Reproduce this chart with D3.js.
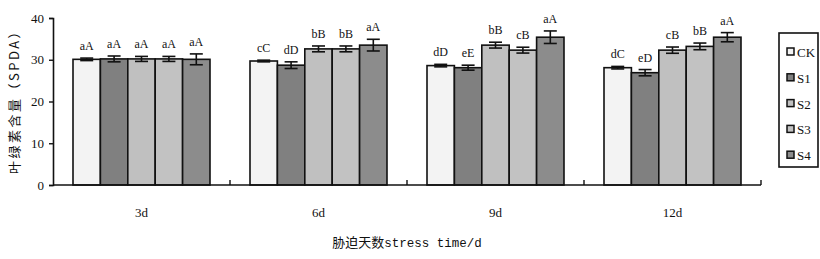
<!DOCTYPE html>
<html>
<head>
<meta charset="utf-8">
<script src="https://cdn.jsdelivr.net/npm/d3@7"></script>
<style>
  body { margin: 0; background: #fff; }
  svg text { font-family: "Liberation Serif", "DejaVu Serif", serif; fill: #111; }
</style>
</head>
<body>
<div id="chart"></div>
<script>
// stress days and treatments
const days = ['3d', '6d', '9d', '12d'];
const series = ['CK', 'S1', 'S2', 'S3', 'S4'];

// chlorophyll content (SPAD), per series, one value per day
const meanCK = [30.1, 29.7, 28.6, 28.1];
const meanS1 = [30.2, 28.7, 28.1, 26.9];
const meanS2 = [30.2, 32.6, 33.5, 32.3];
const meanS3 = [30.2, 32.6, 32.3, 33.2];
const meanS4 = [30.1, 33.5, 35.4, 35.4];

// standard errors
const errCK = [0.3, 0.2, 0.3, 0.3];
const errS1 = [0.7, 0.8, 0.6, 0.75];
const errS2 = [0.6, 0.7, 0.7, 0.75];
const errS3 = [0.6, 0.7, 0.7, 0.8];
const errS4 = [1.3, 1.4, 1.5, 1.1];

// significance letters
const sigCK = ['aA', 'cC', 'dD', 'dC'];
const sigS1 = ['aA', 'dD', 'eE', 'eD'];
const sigS2 = ['aA', 'bB', 'bB', 'cB'];
const sigS3 = ['aA', 'bB', 'cB', 'bB'];
const sigS4 = ['aA', 'aA', 'aA', 'aA'];

const yTicks = [0, 10, 20, 30, 40];
const colors = ['#f3f3f3', '#808080', '#c0c0c0', '#c2c2c2', '#8c8c8c'];

const means = [meanCK, meanS1, meanS2, meanS3, meanS4];
const errs = [errCK, errS1, errS2, errS3, errS4];
const sigs = [sigCK, sigS1, sigS2, sigS3, sigS4];

const rows = [];
days.forEach((day, i) => {
    series.forEach((s, j) => {
        rows.push({ day, s, j, value: means[j][i], err: errs[j][i], sig: sigs[j][i] });
    });
});

const width = 820, height = 259;
const margin = { top: 18, right: 59, bottom: 74, left: 53 };
const innerW = width - margin.left - margin.right;
const innerH = height - margin.top - margin.bottom;

const svg = d3.select('#chart').append('svg')
    .attr('width', width)
    .attr('height', height);

const g = svg.append('g')
    .attr('transform', `translate(${margin.left},${margin.top})`);

const x0 = d3.scaleBand().domain(days).range([0, innerW]);
const x1 = d3.scaleBand().domain(series).range([0, x0.bandwidth()]).paddingOuter(0.73);
const y = d3.scaleLinear().domain([0, 40]).range([innerH, 0]);
const color = d3.scaleOrdinal().domain(series).range(colors);

// bars
g.append('g')
    .selectAll('rect')
    .data(rows)
    .enter().append('rect')
    .attr('x', d => x0(d.day) + x1(d.s))
    .attr('y', d => y(d.value))
    .attr('width', x1.bandwidth())
    .attr('height', d => innerH - y(d.value))
    .attr('fill', d => color(d.s))
    .attr('stroke', '#111')
    .attr('stroke-width', 1.6);

// error bars
const eb = g.append('g')
    .selectAll('g')
    .data(rows)
    .enter().append('g')
    .attr('stroke', '#111')
    .attr('stroke-width', 1.6);
const cx = d => x0(d.day) + x1(d.s) + x1.bandwidth() / 2;
eb.append('line')
    .attr('x1', cx).attr('x2', cx)
    .attr('y1', d => y(d.value + d.err))
    .attr('y2', d => y(d.value - d.err));
eb.append('line')
    .attr('x1', d => cx(d) - 6.5).attr('x2', d => cx(d) + 6.5)
    .attr('y1', d => y(d.value + d.err)).attr('y2', d => y(d.value + d.err));
eb.append('line')
    .attr('x1', d => cx(d) - 6.5).attr('x2', d => cx(d) + 6.5)
    .attr('y1', d => y(d.value - d.err)).attr('y2', d => y(d.value - d.err));

// significance labels
g.append('g')
    .selectAll('text')
    .data(rows)
    .enter().append('text')
    .attr('x', cx)
    .attr('y', d => y(d.value + d.err) - 8)
    .attr('text-anchor', 'middle')
    .style('font-size', '12px')
    .text(d => d.sig);

// y axis
const yAxis = g.append('g')
    .call(d3.axisLeft(y).tickValues(yTicks).tickSize(4).tickPadding(5));
yAxis.select('.domain').attr('stroke', '#111').attr('stroke-width', 1.6);
yAxis.selectAll('.tick line').attr('stroke', '#111').attr('stroke-width', 1.4);
yAxis.selectAll('.tick text').style('font-size', '13px')
    .style('font-family', '"Liberation Serif", serif');

// x axis: baseline with inward ticks at the category boundaries
const xAxis = g.append('g').attr('transform', `translate(0,${innerH})`);
xAxis.append('line')
    .attr('x1', 0).attr('x2', innerW)
    .attr('stroke', '#111').attr('stroke-width', 1.6);
xAxis.selectAll('.bound')
    .data(days)
    .enter().append('line')
    .attr('x1', d => x0(d) + x0.bandwidth()).attr('x2', d => x0(d) + x0.bandwidth())
    .attr('y1', 0).attr('y2', -5)
    .attr('stroke', '#111').attr('stroke-width', 1.4);
xAxis.selectAll('.lab')
    .data(days)
    .enter().append('text')
    .attr('x', d => x0(d) + x0.bandwidth() / 2)
    .attr('y', 32)
    .attr('text-anchor', 'middle')
    .style('font-size', '13px')
    .text(d => d);

// axis titles
svg.append('text')
    .attr('x', margin.left + innerW / 2)
    .attr('y', 247)
    .attr('text-anchor', 'middle')
    .style('font-size', '13px')
    .html('<tspan style="font-family:\'Noto Sans CJK SC\'">胁迫天数</tspan>' +
          '<tspan style="font-family:\'Liberation Mono\', monospace; font-size:12.5px">stress time/d</tspan>');

svg.append('text')
    .attr('transform', `translate(19,${margin.top + innerH / 2 - 3}) rotate(-90)`)
    .attr('text-anchor', 'middle')
    .style('font-family', '"Noto Sans CJK SC", sans-serif')
    .style('font-size', '13px')
    .style('letter-spacing', '2.5px')
    .text('叶绿素含量（SPDA）');

// legend
const legend = svg.append('g').attr('transform', 'translate(779,33)');
legend.append('rect')
    .attr('width', 39).attr('height', 134)
    .attr('fill', '#fff').attr('stroke', '#111').attr('stroke-width', 1.6);
const item = legend.selectAll('.item')
    .data(series)
    .enter().append('g')
    .attr('transform', (d, i) => `translate(8,${19 + i * 25.8})`);
item.append('rect')
    .attr('x', 0).attr('y', -4)
    .attr('width', 7).attr('height', 7)
    .attr('fill', d => color(d))
    .attr('stroke', '#111').attr('stroke-width', 1.5);
item.append('text')
    .attr('x', 10).attr('y', 5)
    .style('font-size', '13px')
    .text(d => d);
</script>
</body>
</html>
